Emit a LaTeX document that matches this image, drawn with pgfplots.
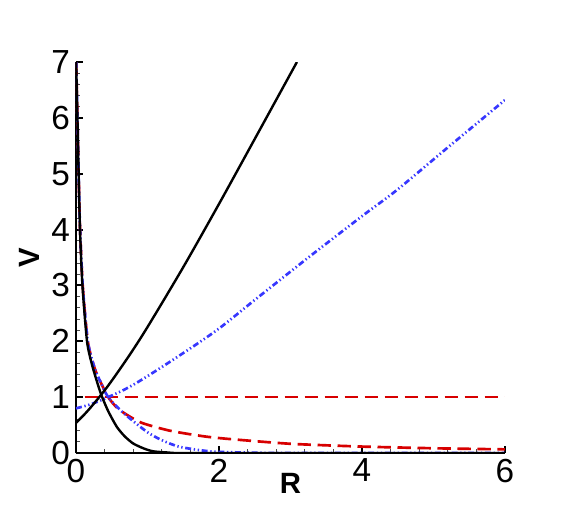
\documentclass[border=0pt]{standalone}
\usepackage{pgfplots}
\pgfplotsset{compat=1.18}
\usepackage{fontspec}
\setmainfont{Liberation Sans}
\definecolor{tpred}{RGB}{215,0,0}
\definecolor{tpblue}{RGB}{55,55,255}

\begin{document}
\begin{tikzpicture}
% page frame, 575x511 px at 0.75pt per px
\path[use as bounding box] (-57pt,-43.5pt) rectangle (374.25pt,339.75pt);
\begin{axis}[
    at={(0,0)}, anchor=south west,
    scale only axis,
    width=321.75pt, height=293.25pt,
    xmin=0, xmax=6,
    ymin=0, ymax=7,
    axis lines*=left,
    axis line style={line width=2.2pt},
    xtick={0,2,4,6},
    ytick={0,1,2,3,4,5,6,7},
    minor x tick num=4,
    minor y tick num=4,
    tick align=inside,
    major tick length=5pt,
    minor tick length=3pt,
    major tick style={line width=1.5pt, black},
    minor tick style={line width=0.6pt, black!70},
    /pgf/number format/assume math mode=true,
    tick label style={font=\fontsize{25}{30}\selectfont},
    xticklabel style={yshift=-1pt},
    yticklabel style={xshift=-1pt},
    xlabel={\textbf{R}},
    ylabel={\textbf{V}},
    label style={font=\fontsize{22}{26}\selectfont},
    xlabel style={yshift=14pt},
    ylabel style={yshift=2pt},
    clip=true,
]

% red, flat dashed
\addplot[tpred, line width=2pt, dash pattern=on 10pt off 5pt]
coordinates {(0.12,1.0) (6.0,1.0)};

% red, decaying dashed
\addplot[tpred, line width=2pt, dash pattern=on 10pt off 5pt, smooth, tension=0.4]
coordinates {
(0.003,7.0) (0.02,6.0) (0.037,5.0) (0.057,4.0) (0.094,3.0)
(0.165,2.0) (0.26,1.52) (0.34,1.28) (0.45,1.0) (0.6,0.78)
(0.9,0.55) (1.31,0.40) (1.78,0.30) (2.15,0.25) (3.0,0.165)
(4.0,0.115) (5.0,0.085) (6.0,0.065)
};

% blue, decaying dash-dot-dot
\addplot[tpblue, line width=2pt, dash pattern=on 4.5pt off 2pt on 1pt off 2pt on 1pt off 2pt, smooth, tension=0.4]
coordinates {
(0.003,7.0) (0.02,6.0) (0.037,5.0) (0.057,4.0) (0.094,3.0)
(0.165,2.0) (0.26,1.52) (0.34,1.28) (0.45,1.0) (0.66,0.72)
(0.99,0.38) (1.2,0.23) (1.45,0.11) (1.87,0.03) (2.3,0.01)
(3.0,0.0) (6.0,0.0)
};

% blue, rising dash-dot-dot
\addplot[tpblue, line width=2pt, dash pattern=on 4.5pt off 2pt on 1pt off 2pt on 1pt off 2pt, smooth, tension=0.5]
coordinates {
(0.0,0.80) (0.2,0.87) (0.45,1.0) (0.8,1.22) (1.37,1.68)
(1.97,2.20) (2.5,2.74) (3.26,3.51) (4.0,4.24) (4.49,4.71)
(5.2,5.47) (6.0,6.32)
};

% black, decaying
\addplot[black, line width=1.8pt, smooth, tension=0.4]
coordinates {
(0.002,7.0) (0.02,6.0) (0.037,5.0) (0.056,4.0) (0.09,3.0)
(0.154,2.0) (0.22,1.6) (0.30,1.25) (0.36,1.02) (0.45,0.75)
(0.57,0.47) (0.68,0.30) (0.80,0.17) (0.95,0.08) (1.08,0.03)
(1.3,0.008) (1.6,0.0) (6.0,0.0)
};

% black, rising
\addplot[black, line width=1.8pt, smooth, tension=0.5]
coordinates {
(0.0,0.54) (0.1,0.667) (0.2,0.808) (0.35,1.04) (0.5,1.294)
(0.75,1.756) (1.0,2.255) (1.5,3.327) (2.0,4.459) (2.5,5.622)
(3.09,7.0)
};

\end{axis}
\end{tikzpicture}
\end{document}
